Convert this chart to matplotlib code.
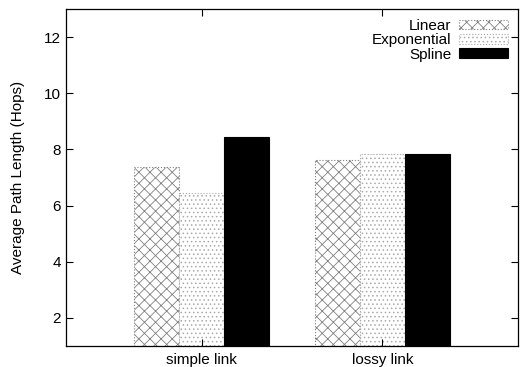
import matplotlib
matplotlib.use("Agg")
import matplotlib.pyplot as plt
import numpy as np

plt.rcParams['font.family'] = ['Liberation Sans', 'DejaVu Sans']
plt.rcParams['hatch.linewidth'] = 0.6

categories = ["simple link", "lossy link"]
series = ["Linear", "Exponential", "Spline"]
linear = [7.36, 7.64]
exponential = [6.46, 7.82]
spline = [8.43, 7.85]
yticks = [2, 4, 6, 8, 10, 12]

fig = plt.figure(figsize=(5.24, 3.67), dpi=100)
ax = fig.add_axes([66/524, 21/367, 452/524, 337/367])

x = np.arange(len(categories))
w = 0.25
styles = [
    dict(facecolor="white", edgecolor="#808080", hatch="xxx", linestyle=":"),
    dict(facecolor="white", edgecolor="#aaaaaa", hatch="....", linestyle=":"),
    dict(facecolor="black", edgecolor="black"),
]
for i, (name, vals) in enumerate(zip(series, [linear, exponential, spline])):
    st = styles[i]
    ax.bar(x + (i - 1) * w, np.array(vals) - 1, bottom=1, width=w, label=name,
           linewidth=0.8, **st)

ax.set_xlim(-0.75, 1.75)
ax.set_ylim(1, 13)
ax.set_yticks(yticks)
ax.set_xticks(x)
ax.set_xticklabels(categories)
ax.tick_params(direction="in", top=True, right=True, labelsize=11, length=5, width=0.8)
ax.tick_params(axis="x", pad=5)
ax.set_ylabel("Average Path Length (Hops)", fontsize=11, labelpad=14)
for s in ax.spines.values():
    s.set_linewidth(0.9)

leg = ax.legend(loc="upper right", frameon=False, fontsize=11, markerfirst=False,
                handlelength=3.2, handleheight=0.6, labelspacing=0.02,
                borderaxespad=0.25, handletextpad=0.5)
# right-align legend rows so the labels end flush against the sample boxes
for col in leg._legend_handle_box.get_children():
    col.align = "right"

fig.savefig("out.png", dpi=100)
